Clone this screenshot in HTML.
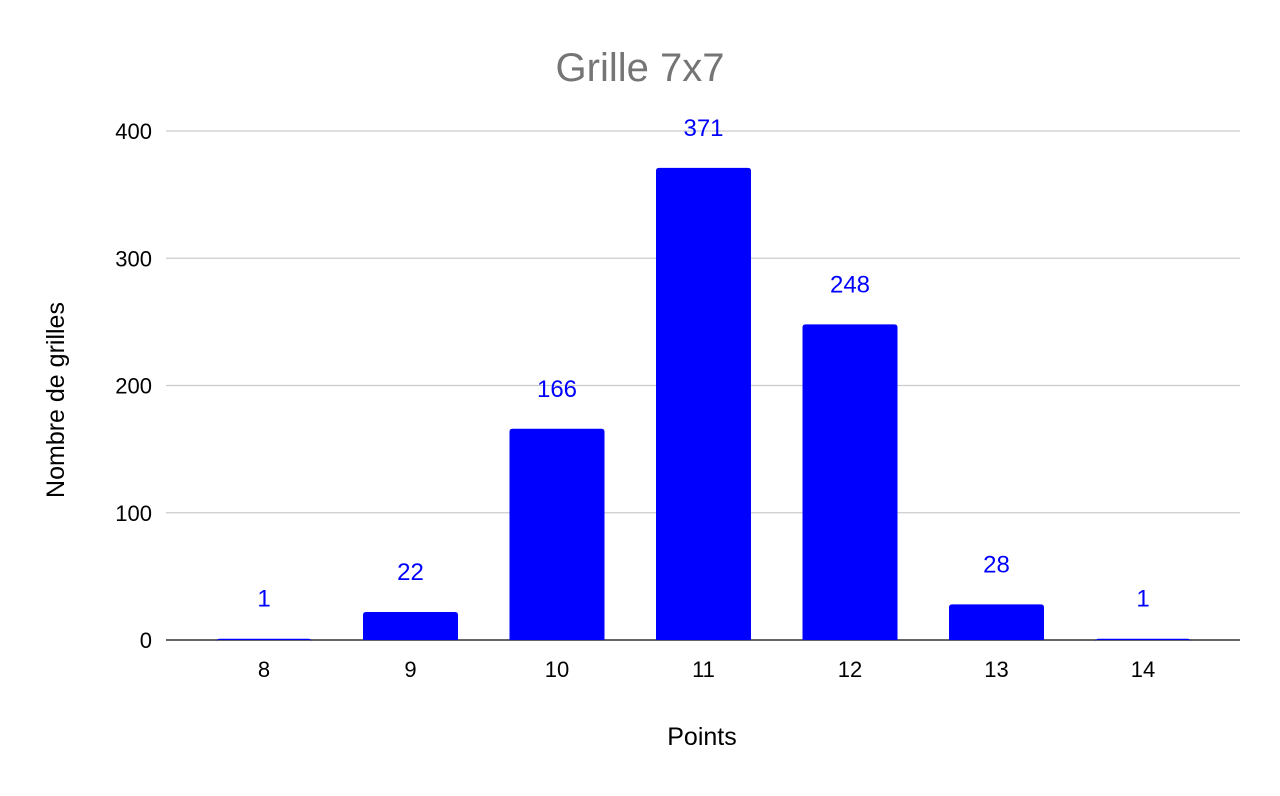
<!DOCTYPE html>
<html><head><meta charset="utf-8"><style>
body{margin:0;background:#fff;}
svg text{font-family:"Liberation Sans",Arial,sans-serif;}
</style></head><body>
<svg width="1280" height="791" viewBox="0 0 1280 791" id="chart">
<rect width="1280" height="791" fill="#fff"/>
<text x="640" y="81" text-anchor="middle" font-size="40" fill="#757575">Grille 7x7</text>
<text x="702" y="745" text-anchor="middle" font-size="25" fill="#000">Points</text>
<text transform="translate(64,400) rotate(-90)" text-anchor="middle" font-size="25" fill="#000">Nombre de grilles</text>
<g id="grid"></g><g id="bars"></g>
</svg>
<script>
const categories=["8","9","10","11","12","13","14"];
const values=[1,22,166,371,248,28,1];
const yTicks=[0,100,200,300,400];
const NS="http://www.w3.org/2000/svg";
const svg=document.getElementById('chart');
const grid=document.getElementById('grid');
const barsG=document.getElementById('bars');
function y(v){return 640-v*(509/400);}
function x(i){return 264+i*146.5;}
function mk(t,a,p){const e=document.createElementNS(NS,t);for(const k in a)e.setAttribute(k,a[k]);p.appendChild(e);return e;}
yTicks.forEach(t=>{
  const l=mk('line',{x1:166,x2:1240,y1:y(t),y2:y(t),stroke:t===0?'#333':'#ccc','stroke-width':t===0?1.5:1.2},grid);
  
  
  const tx=mk('text',{x:152,y:y(t)+8,'text-anchor':'end','font-size':22,fill:'#000'},grid);
  tx.textContent=t;
  
  
});
categories.forEach((c,i)=>{
  const v=values[i];
  const top=y(v);
  const r=mk('path',{d:`M${x(i)-47.5},640 V${top+3} Q${x(i)-47.5},${top} ${x(i)-44.5},${top} H${x(i)+44.5} Q${x(i)+47.5},${top} ${x(i)+47.5},${top+3} V640 Z`,fill:'#0000ff'},barsG);
  
  
  const lb=mk('text',{x:x(i),y:top-32,'text-anchor':'middle','font-size':24,fill:'#0000ff'},barsG);
  lb.textContent=v;
  
  
  const xt=mk('text',{x:x(i),y:677,'text-anchor':'middle','font-size':22,fill:'#000'},barsG);
  xt.textContent=c;
  
  
});
</script>
</body></html>
